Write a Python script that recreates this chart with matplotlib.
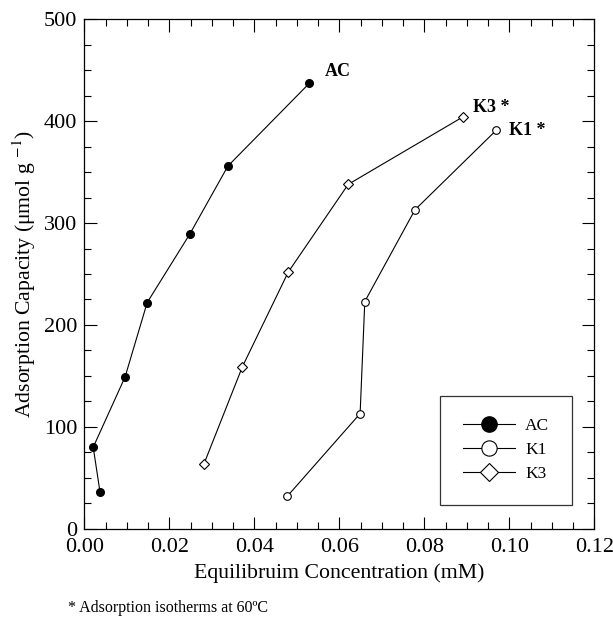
import matplotlib
matplotlib.use('Agg')
import matplotlib.pyplot as plt
from matplotlib.lines import Line2D
from matplotlib.ticker import MultipleLocator

plt.rcParams['font.family'] = ['Liberation Serif', 'DejaVu Serif']
plt.rcParams['mathtext.fontset'] = 'stix'

# data
ac_x = [0.0037, 0.0021, 0.0096, 0.0148, 0.0248, 0.0338, 0.0529]
ac_y = [36, 80, 149, 222, 289, 356, 437]
k1_x = [0.0478, 0.0649, 0.0660, 0.0778, 0.0969]
k1_y = [32, 113, 223, 313, 391]
k3_x = [0.0282, 0.0372, 0.0480, 0.0621, 0.0890]
k3_y = [64, 159, 252, 338, 404]

fig = plt.figure(figsize=(6.13, 6.17), dpi=100)
ax = fig.add_axes([0.1375, 0.1431, 0.832, 0.8256])

# Plot the series
ax.plot(ac_x, ac_y, color='black', lw=0.8, marker='o', ms=5.5,
        mfc='black', mec='black')
ax.plot(k1_x, k1_y, color='black', lw=0.8, marker='o', ms=5.5,
        mfc='white', mec='black', mew=0.8)
ax.plot(k3_x, k3_y, color='black', lw=0.8, marker='D', ms=5,
        mfc='white', mec='black', mew=0.8)

# Curve labels
ax.text(0.0567, 440, 'AC', fontsize=13, fontweight='bold', va='bottom')
ax.text(0.0915, 405, 'K3 *', fontsize=13, fontweight='bold', va='bottom')
ax.text(0.1000, 383, 'K1 *', fontsize=13, fontweight='bold', va='bottom')

ax.set_xlim(0, 0.12)
ax.set_ylim(0, 500)
ax.xaxis.set_major_locator(MultipleLocator(0.02))
ax.xaxis.set_minor_locator(MultipleLocator(0.005))
ax.yaxis.set_major_locator(MultipleLocator(100))
ax.yaxis.set_minor_locator(MultipleLocator(25))
ax.xaxis.set_major_formatter(matplotlib.ticker.FormatStrFormatter('%.2f'))
ax.tick_params(which='both', direction='in', top=True, right=True,
               labelsize=16, width=0.8)
ax.tick_params(which='major', length=9)
ax.tick_params(which='minor', length=5)
ax.tick_params(axis='x', pad=7)
ax.tick_params(axis='y', pad=5)
for s in ax.spines.values():
    s.set_linewidth(0.9)

ax.set_xlabel('Equilibruim Concentration (mM)', fontsize=15.7, labelpad=4)
ax.set_ylabel('Adsorption Capacity (\u03bcmol g $^{-1}$)', fontsize=15.7,
              labelpad=4)

# Legend with bigger markers
handles = [
    Line2D([], [], color='black', lw=0.8, marker='o', ms=11, mfc='black', mec='black'),
    Line2D([], [], color='black', lw=0.8, marker='o', ms=11, mfc='white', mec='black', mew=0.8),
    Line2D([], [], color='black', lw=0.8, marker='D', ms=9, mfc='white', mec='black', mew=0.8),
]
leg = ax.legend(handles, ['AC', 'K1', 'K3'], loc='lower right',
                bbox_to_anchor=(0.956, 0.047), fontsize=12.5, frameon=True,
                fancybox=False, edgecolor='black', handlelength=3.0,
                borderpad=1.3, labelspacing=0.45, handletextpad=0.6,
                borderaxespad=0)
leg.get_frame().set_linewidth(0.9)

fig.text(0.111, 0.008, '* Adsorption isotherms at 60\u00baC', fontsize=11.5)

fig.savefig('out.png', dpi=100)
